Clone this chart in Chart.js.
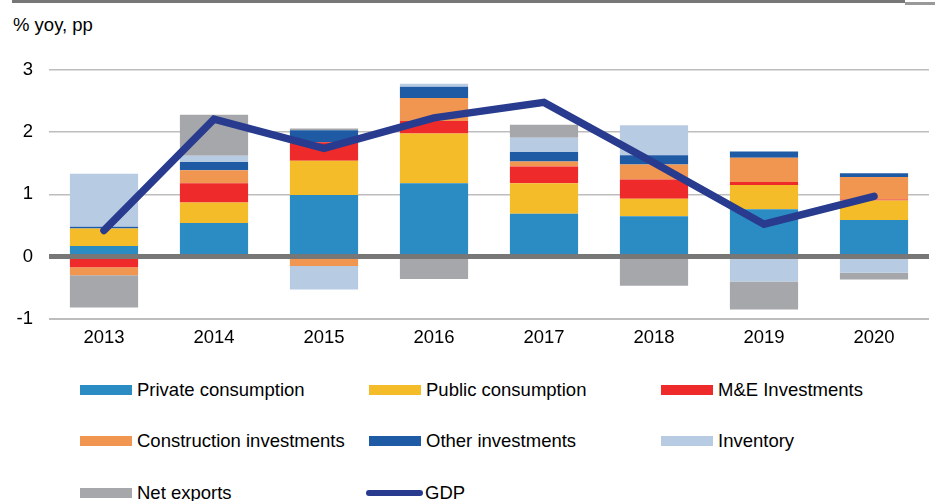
<!DOCTYPE html>
<html>
<head>
<meta charset="utf-8">
<script src="https://cdn.jsdelivr.net/npm/chart.js@4"></script>
<style>
  body{margin:0;background:#fff;font-family:"Liberation Sans",Arial,sans-serif;}
  #wrap{position:relative;width:935px;height:501px;overflow:hidden;}
  #topline{position:absolute;left:12px;top:0;width:893px;height:3px;background:#777;}
  #topline2{position:absolute;left:905px;top:2px;width:30px;height:3px;background:#999;}
  #unit{position:absolute;left:13px;top:14px;font-size:18.5px;color:#000;line-height:22px;}
  #box{position:absolute;left:0;top:0;width:935px;height:361px;}
  .lg{position:absolute;font-size:18.5px;color:#000;white-space:nowrap;line-height:20px;}
  .sw{display:inline-block;width:52px;height:10px;vertical-align:middle;margin-right:5px;position:relative;top:-1px;}
</style>
</head>
<body>
<div id="wrap">
  <div id="topline"></div><div id="topline2"></div>
  <div id="unit">% yoy, pp</div>
  <div id="box"><canvas id="chart"></canvas></div>
  <div id="legend"></div>
</div>
<script>
// values (pp contribution to GDP growth)
const years = ['2013','2014','2015','2016','2017','2018','2019','2020'];
const privateCons = [0.17, 0.54, 0.99, 1.18, 0.69, 0.65, 0.76, 0.59];
const publicCons  = [0.28, 0.33, 0.55, 0.80, 0.49, 0.28, 0.39, 0.31];
const meInv       = [-0.17, 0.31, 0.30, 0.20, 0.27, 0.31, 0.05, 0.02];
const constrInv   = [-0.13, 0.21, -0.15, 0.37, 0.08, 0.24, 0.39, 0.36];
const otherInv    = [0.03, 0.13, 0.19, 0.18, 0.15, 0.15, 0.10, 0.06];
const inventory   = [0.85, 0.10, -0.38, 0.05, 0.23, 0.48, -0.40, -0.26];
const netExports  = [-0.52, 0.66, 0.03, -0.36, 0.21, -0.47, -0.45, -0.11];
const gdp         = [0.42, 2.21, 1.74, 2.23, 2.48, 1.51, 0.52, 0.97];
const yTicks = [3, 2, 1, 0, -1];

const bars = [
  ['Private consumption', privateCons, '#2b8cc4'],
  ['Public consumption', publicCons, '#f4bc29'],
  ['M&E Investments', meInv, '#ee2b2a'],
  ['Construction investments', constrInv, '#f09651'],
  ['Other investments', otherInv, '#1f5aa5'],
  ['Inventory', inventory, '#b7cce3'],
  ['Net exports', netExports, '#a6a7ab']
];
const gdpColor = '#283b8e';

Chart.defaults.font.family = '"Liberation Sans", Arial, sans-serif';
Chart.defaults.font.size = 18.5;
Chart.defaults.color = '#000';

const datasets = bars.map(b => ({
  type:'bar', label:b[0], data:b[1], backgroundColor:b[2],
  borderWidth:0, stack:'c', order:1,
  barPercentage:0.62, categoryPercentage:1
}));
datasets.push({
  type:'line', label:'GDP', data:gdp, borderColor:gdpColor, borderWidth:7.5,
  pointRadius:0, borderCapStyle:'round', borderJoinStyle:'miter', tension:0,
  stack:'gdp', order:0, fill:false
});

new Chart(document.getElementById('chart'), {
  data:{labels:years, datasets:datasets},
  options:{
    responsive:true, maintainAspectRatio:false, animation:false,
    layout:{padding:{top:70, right:6, bottom:12, left:0}},
    plugins:{legend:{display:false}, tooltip:{enabled:false}},
    scales:{
      x:{stacked:true, grid:{display:false}, border:{display:false},
         ticks:{padding:0}},
      y:{stacked:true, min:-1, max:3,
         afterBuildTicks:s => { s.ticks = yTicks.map(v => ({value:v})); },
         afterFit:s => { s.width = 49; },
         border:{display:false},
         grid:{drawTicks:false,
               color:c => c.tick.value === 0 ? '#777' : '#bdbdbd',
               lineWidth:c => c.tick.value === 0 ? 5 : (c.tick.value === -1 ? 2 : 1.5)},
         ticks:{padding:16}}
    }
  }
});

// legend in three columns
const legendItems = bars.map(b => ({label:b[0], color:b[2], line:false}));
legendItems.push({label:'GDP', color:gdpColor, line:true});
const colX = [80, 369, 661];
const rowY = [380, 431, 483];
const lg = document.getElementById('legend');
legendItems.forEach((it, i) => {
  const d = document.createElement('div');
  d.className = 'lg';
  d.style.left = colX[i % 3] + 'px';
  d.style.top = rowY[Math.floor(i / 3)] + 'px';
  const sw = document.createElement('span');
  sw.className = 'sw';
  sw.style.background = it.color;
  if (it.line) { sw.style.height = '6px'; sw.style.borderRadius = '3px'; sw.style.width = '57px'; sw.style.marginLeft = '-3px'; sw.style.marginRight = '2px'; }
  d.appendChild(sw);
  d.appendChild(document.createTextNode(it.label));
  lg.appendChild(d);
});
</script>
</body>
</html>
